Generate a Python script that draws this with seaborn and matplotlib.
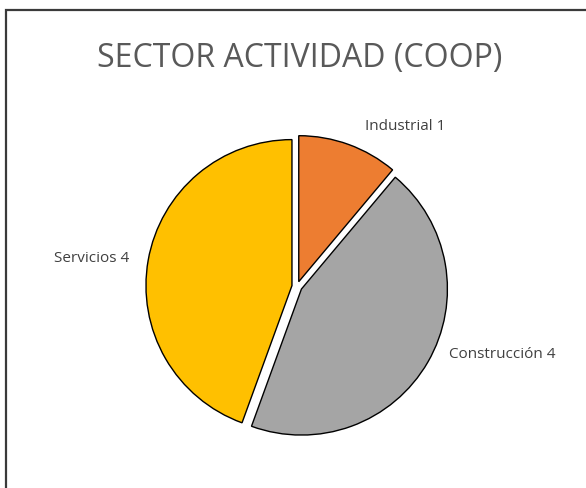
import matplotlib
matplotlib.use("Agg")
import matplotlib.pyplot as plt
import seaborn as sns
from matplotlib.patches import Rectangle

sectors = ["Industrial", "Construcción", "Servicios"]
counts = [1, 4, 4]
colors = ["#ED7D31", "#A5A5A5", "#FFC000"]
title = "SECTOR ACTIVIDAD (COOP)"

# label positions (figure pixels from top-left)
label_pos = [(405, 126), (502, 354), (92, 259)]

sns.set_theme(style="white")
plt.rcParams['font.family'] = ['Open Sans', 'DejaVu Sans']

W, H = 586, 488
fig = plt.figure(figsize=(W / 100, H / 100), dpi=100)

# frame of the chart area (only left and top visible)
fig.patches.append(Rectangle((6 / W, -0.1), 1.2, (H - 10) / H + 0.1,
                             transform=fig.transFigure, fill=False,
                             edgecolor="#3a3a3a", linewidth=1.6))

cx, cy, R = 297, 286.5, 146
ax = fig.add_axes([(cx - R) / W, (H - cy - R) / H, 2 * R / W, 2 * R / H])
ax.pie(counts, colors=colors, startangle=90, counterclock=False,
       explode=[0.035] * len(counts), radius=1,
       wedgeprops=dict(edgecolor="black", linewidth=1))
ax.set_xlim(-1, 1)
ax.set_ylim(-1, 1)
ax.set_aspect("equal")
ax.axis("off")

for name, n, (x, y) in zip(sectors, counts, label_pos):
    fig.text(x / W, 1 - y / H, f"{name} {n}", ha="center", va="center",
             fontsize=11, color="#404040")

fig.text(300 / W, 1 - 58 / H, title, ha="center", va="center",
         fontsize=23, color="#595959")

fig.savefig("out.png", dpi=100)
